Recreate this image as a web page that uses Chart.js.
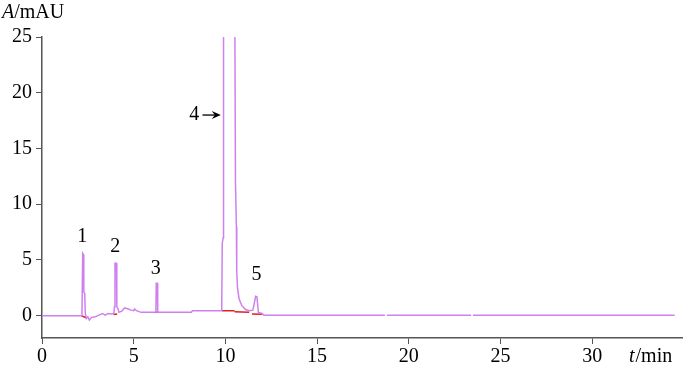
<!DOCTYPE html>
<html>
<head>
<meta charset="utf-8">
<script src="https://cdn.jsdelivr.net/npm/chart.js@4/dist/chart.umd.min.js"></script>
<style>
  html, body { margin: 0; padding: 0; background: #fff; }
  #wrap { width: 700px; height: 369px; }
</style>
</head>
<body>
<div id="wrap"><canvas id="chrom"></canvas></div>
<script>
// chromatogram trace (time in min, absorbance in mAU)
const traceTime = [0, 2.15, 2.18, 2.22, 2.26, 2.28, 2.33, 2.36, 2.42, 2.5, 2.58, 2.7, 2.9, 3.1, 3.3, 3.45, 3.6, 3.8,
    3.92, 3.95, 3.98, 4.06, 4.08, 4.15, 4.2, 4.35, 4.5, 4.7, 4.85, 5.0, 5.05, 5.15, 5.4, 6.21, 6.23, 6.29, 6.31,
    8.15, 8.2, 9.8, 9.83, 9.88, 9.9, 10.5, 10.52, 10.55, 10.6, 10.62, 10.66, 10.75, 10.9, 11.1, 11.3, 11.5,
    11.6, 11.65, 11.72, 11.8, 12.0, 12.1, 18.7, 18.75, 18.8, 23.4, 23.45, 23.5, 34.5];
const traceAbs = [0, 0, 0.2, 5.6, 5.5, 2.1, 2.0, 0.2, -0.25, -0.1, -0.4, -0.15, -0.1, 0.05, 0.2, 0.05, 0.2, 0.15,
    0.2, 0.8, 4.7, 4.7, 0.8, 0.6, 0.3, 0.4, 0.7, 0.6, 0.5, 0.45, 0.6, 0.45, 0.3, 0.3, 2.9, 2.9, 0.3,
    0.3, 0.45, 0.45, 6.5, 7.0, 30, 30, 25, 12, 8, 4, 2.5, 1.5, 0.9, 0.55, 0.45, 0.5,
    1.3, 1.75, 1.7, 0.3, 0.2, 0.05, 0.05, null, 0.05, 0.05, null, 0.05, 0.05];

// integration baselines (red), one pair of points per peak
const baseStart = [[2.15, 0], [3.9, 0.1], [6.2, 0.3], [9.82, 0.45], [10.5, 0.35], [11.45, 0.15]];
const baseEnd   = [[2.45, -0.2], [4.1, 0.15], [6.35, 0.3], [10.5, 0.45], [11.3, 0.3], [12.0, 0.12]];

// peak numbers and where they sit
const peakNames = ['1', '2', '3', '4', '5'];
const peakLabelX = [2.2, 4.0, 6.2, 8.3, 11.7];
const peakLabelY = [7.1, 6.2, 4.2, 18.0, 3.7];

const xTicks = [0, 5, 10, 15, 20, 25, 30];
const yTicks = [0, 5, 10, 15, 20, 25];

const tracePts = traceTime.map((t, i) => ({ x: t, y: traceAbs[i] }));
const basePts = [];
baseStart.forEach((p, i) => {
    basePts.push({ x: p[0], y: p[1] });
    basePts.push({ x: baseEnd[i][0], y: baseEnd[i][1] });
    basePts.push({ x: baseEnd[i][0], y: null });
});

const serif = '"Liberation Serif", "DejaVu Serif", serif';

// axis names and peak numbers
const labelPlugin = {
    id: 'labels',
    afterDraw(chart) {
        const ctx = chart.ctx;
        const xs = chart.scales.x, ys = chart.scales.y;
        ctx.save();
        ctx.fillStyle = '#000';
        ctx.textBaseline = 'alphabetic';

        ctx.font = 'italic 20px ' + serif;
        ctx.textAlign = 'left';
        ctx.fillText('A', 2, 18);
        let w = ctx.measureText('A').width;
        ctx.font = '20px ' + serif;
        ctx.fillText('/mAU', 2 + w, 18);

        ctx.font = 'italic 20px ' + serif;
        ctx.fillText('t', 629, 362);
        w = ctx.measureText('t').width;
        ctx.font = '20px ' + serif;
        ctx.fillText('/min', 629 + w + 1, 362);

        ctx.font = '20px ' + serif;
        ctx.textAlign = 'center';
        ctx.textBaseline = 'middle';
        peakNames.forEach((n, i) => {
            ctx.fillText(n, xs.getPixelForValue(peakLabelX[i]), ys.getPixelForValue(peakLabelY[i]));
        });

        // arrow for peak 4
        const ay = ys.getPixelForValue(peakLabelY[3]);
        const ax0 = xs.getPixelForValue(8.75), ax1 = xs.getPixelForValue(9.75);
        ctx.strokeStyle = '#000';
        ctx.lineWidth = 1.3;
        ctx.beginPath();
        ctx.moveTo(ax0, ay);
        ctx.lineTo(ax1 - 4, ay);
        ctx.stroke();
        ctx.beginPath();
        ctx.moveTo(ax1, ay);
        ctx.lineTo(ax1 - 9, ay - 4);
        ctx.lineTo(ax1 - 6, ay);
        ctx.lineTo(ax1 - 9, ay + 4);
        ctx.closePath();
        ctx.fillStyle = '#000';
        ctx.fill();
        ctx.restore();
    }
};

new Chart(document.getElementById('chrom'), {
    type: 'line',
    data: {
        datasets: [
            {
                data: tracePts,
                borderColor: '#cf80ef',
                borderWidth: 1.5,
                pointRadius: 0,
                tension: 0,
                spanGaps: false
            },
            {
                data: basePts,
                borderColor: '#dd2020',
                borderWidth: 1.5,
                pointRadius: 0,
                spanGaps: false
            }
        ]
    },
    options: {
        responsive: true,
        maintainAspectRatio: false,
        animation: false,
        layout: { padding: { top: 37, right: 18, left: 0, bottom: 0 } },
        plugins: { legend: { display: false }, tooltip: { enabled: false } },
        scales: {
            x: {
                type: 'linear',
                min: 0,
                max: 34.9,
                afterBuildTicks: s => { s.ticks = xTicks.map(v => ({ value: v })); },
                afterFit: s => { s.height = 31; },
                grid: { drawOnChartArea: false, drawTicks: true, tickLength: 6, tickColor: '#555' },
                border: { color: '#555', width: 1.5 },
                ticks: { color: '#000', font: { family: serif, size: 20 }, padding: 1, maxRotation: 0 }
            },
            y: {
                type: 'linear',
                min: -2,
                max: 25,
                afterBuildTicks: s => { s.ticks = yTicks.map(v => ({ value: v })); },
                afterFit: s => { s.width = 42; },
                grid: { drawOnChartArea: false, drawTicks: true, tickLength: 6, tickColor: '#555' },
                border: { color: '#555', width: 1.5 },
                ticks: { color: '#000', font: { family: serif, size: 20 }, padding: 4 }
            }
        }
    },
    plugins: [labelPlugin]
});
</script>
</body>
</html>
